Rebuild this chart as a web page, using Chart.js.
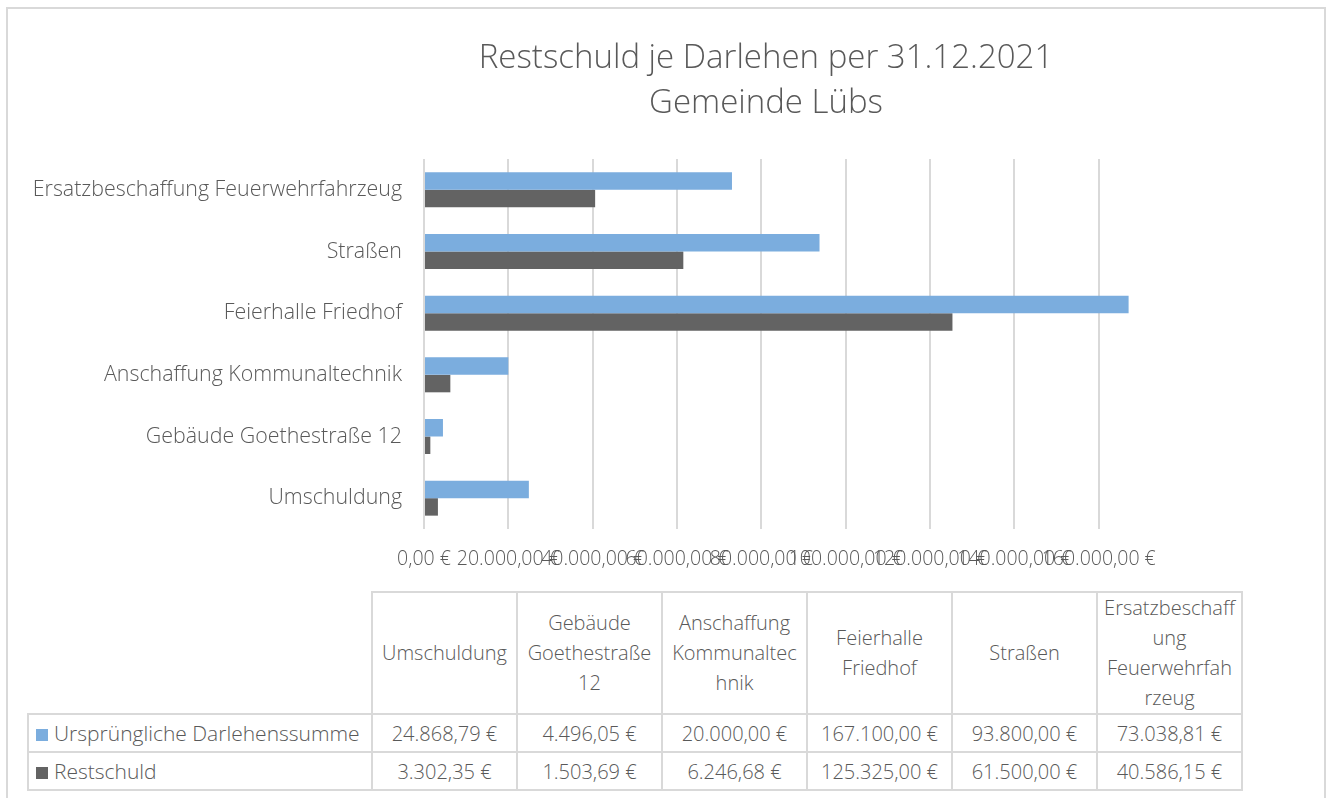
<!DOCTYPE html>
<html>
<head>
<meta charset="utf-8">
<script src="https://cdn.jsdelivr.net/npm/chart.js@4/dist/chart.umd.min.js"></script>
<style>
  body { margin: 0; background: #fff; font-family: "Open Sans", sans-serif; }
  #wrap { position: relative; width: 1333px; height: 798px; overflow: hidden; }
  #frame { position: absolute; left: 6px; top: 7px; width: 1320px; height: 900px; border: 2px solid #d9d9d9; box-sizing: border-box; }
  #myChart { position: absolute; left: 0; top: 0; }
  #tbl { position: absolute; left: 27px; top: 591px; border-collapse: collapse; color: #595959; font-size: 20px; font-weight: 300; }
  #tbl td { border: 2px solid #d9d9d9; text-align: center; padding: 0 3px; box-sizing: border-box; }
  #tbl tr.head td { height: 114px; width: 145px; overflow-wrap: anywhere; line-height: 30px; padding: 0 6px; }
  #tbl tr.head td.blank { border: none; border-right: 2px solid #d9d9d9; width: 344px; }
  #tbl tr.row td { height: 38px; white-space: nowrap; }
  #tbl tr.row td.name { text-align: left; padding-left: 7px; font-size: 21px; }
  .sw { display: inline-block; width: 12px; height: 12px; margin-right: 6px; vertical-align: 0px; }
</style>
</head>
<body>
<div id="wrap">
  <div id="frame"></div>
  <canvas id="myChart" width="1333" height="590"></canvas>
  <table id="tbl"></table>
</div>
<script>
const categories = ["Umschuldung", "Gebäude Goethestraße 12", "Anschaffung Kommunaltechnik", "Feierhalle Friedhof", "Straßen", "Ersatzbeschaffung Feuerwehrfahrzeug"];
const seriesNames = ["Ursprüngliche Darlehenssumme", "Restschuld"];
const original = [24868.79, 4496.05, 20000.00, 167100.00, 93800.00, 73038.81];
const remaining = [3302.35, 1503.69, 6246.68, 125325.00, 61500.00, 40586.15];
const titleLines = ["Restschuld je Darlehen per 31.12.2021", "Gemeinde Lübs"];
const tickStep = 20000;
const axisMax = 180000;
const colors = ["#7badde", "#636363"];

function euro(v) {
  const parts = v.toFixed(2).split(".");
  parts[0] = parts[0].replace(/\B(?=(\d{3})+(?!\d))/g, ".");
  return parts[0] + "," + parts[1] + " €";
}

// the Excel title sits off-centre from the plot, so draw it ourselves
const titlePlugin = {
  id: "offTitle",
  afterDraw(chart) {
    const c = chart.ctx;
    c.save();
    c.fillStyle = "#595959";
    c.font = "300 33px 'Open Sans'";
    c.textAlign = "center";
    c.textBaseline = "middle";
    c.fillText(titleLines[0], 766, 59);
    c.fillText(titleLines[1], 766, 104);
    c.restore();
  },
};

const ctx = document.getElementById("myChart").getContext("2d");
new Chart(ctx, {
  type: "bar",
  data: {
    labels: categories,
    datasets: [
      { label: seriesNames[0], data: original, backgroundColor: colors[0] },
      { label: seriesNames[1], data: remaining, backgroundColor: colors[1] },
    ],
  },
  plugins: [titlePlugin],
  options: {
    indexAxis: "y",
    responsive: false,
    animation: false,
    categoryPercentage: 0.567,
    barPercentage: 1,
    layout: { padding: { left: 0, right: 150, top: 159, bottom: 0 } },
    plugins: {
      legend: { display: false },
      tooltip: { enabled: false },
      title: { display: false },
    },
    scales: {
      x: {
        min: 0,
        max: axisMax,
        border: { display: false },
        grid: {
          color: (c) => (c.tick && c.tick.value === axisMax ? "rgba(0,0,0,0)" : "#d9d9d9"),
          lineWidth: 2,
          drawTicks: false,
        },
        ticks: {
          stepSize: tickStep,
          autoSkip: false,
          maxRotation: 0,
          minRotation: 0,
          padding: 19,
          color: "#595959",
          font: { family: "Open Sans", size: 19.5, weight: 300 },
          callback: (v) => (v === axisMax ? "" : euro(v)),
        },
        afterFit: (s) => { s.height = 61; },
      },
      y: {
        reverse: true,
        border: { display: false },
        grid: { display: false, drawTicks: false },
        ticks: {
          padding: 22,
          color: "#595959",
          font: { family: "Open Sans", size: 21.4, weight: 300 },
        },
        afterFit: (s) => { s.width = 424; },
      },
    },
  },
});

// data table below the chart
const tbl = document.getElementById("tbl");
let html = '<tr class="head"><td class="blank"></td>';
categories.forEach((c) => { html += "<td>" + c + "</td>"; });
html += "</tr>";
[original, remaining].forEach((vals, i) => {
  html += '<tr class="row"><td class="name"><span class="sw" style="background:' + colors[i] + '"></span>' + seriesNames[i] + "</td>";
  vals.forEach((v) => { html += "<td>" + euro(v) + "</td>"; });
  html += "</tr>";
});
tbl.innerHTML = html;
</script>
</body>
</html>
